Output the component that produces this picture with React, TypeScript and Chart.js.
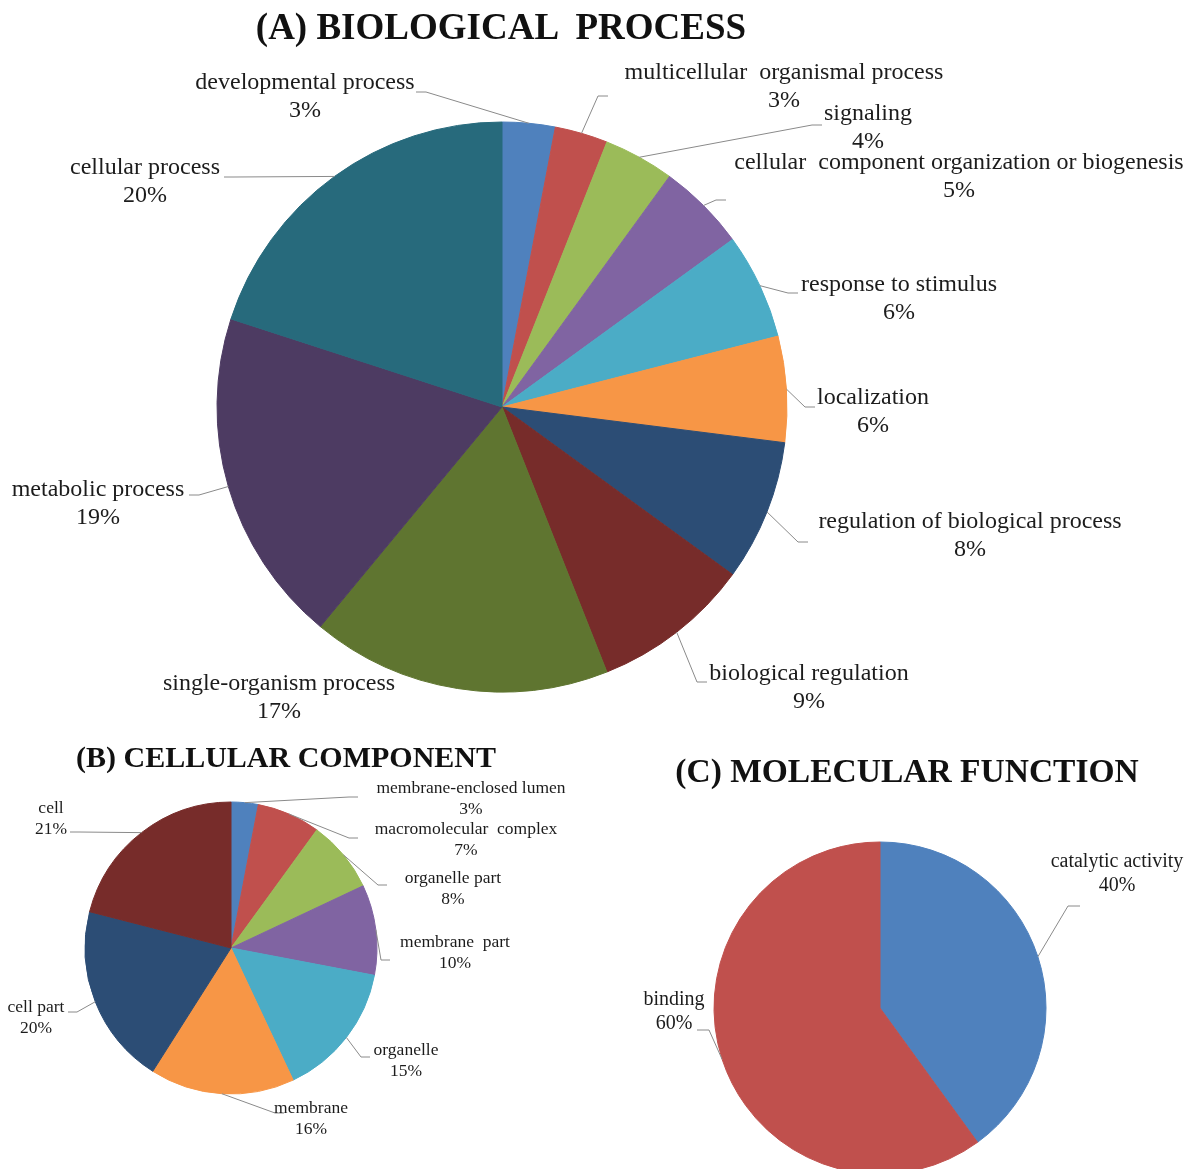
import React, { useEffect, useRef } from 'react';
import { Chart, registerables } from 'chart.js';

Chart.register(...registerables);

// ---------- DATA ----------
const bpCategories = [
  'developmental process',
  'multicellular  organismal process',
  'signaling',
  'cellular  component organization or biogenesis',
  'response to stimulus',
  'localization',
  'regulation of biological process',
  'biological regulation',
  'single-organism process',
  'metabolic process',
  'cellular process',
];
const bpValues = [3, 3, 4, 5, 6, 6, 8, 9, 17, 19, 20];

const ccCategories = [
  'membrane-enclosed lumen',
  'macromolecular  complex',
  'organelle part',
  'membrane  part',
  'organelle',
  'membrane',
  'cell part',
  'cell',
];
const ccValues = [3, 7, 8, 10, 15, 16, 20, 21];

const mfCategories = ['catalytic activity', 'binding'];
const mfValues = [40, 60];

// ---------- STYLE / LAYOUT ----------
const W = 1190;
const H = 1169;
const FONT = '"Liberation Serif", "Times New Roman", serif';
const TEXT_COLOR = '#1c1c1c';
const LEADER_COLOR = '#8a8a8a';

const bpColors = ['#4F81BD', '#C0504D', '#9BBB59', '#8064A2', '#4BACC6', '#F79646', '#2C4D75', '#772C2A', '#5F7530', '#4D3B62', '#276A7C'];
const ccColors = ['#4F81BD', '#C0504D', '#9BBB59', '#8064A2', '#4BACC6', '#F79646', '#2C4D75', '#772C2A'];
const mfColors = ['#4F81BD', '#C0504D'];

type LabelPos = { x: number; y: number; ax?: number; ay?: number; side?: 'L' | 'R' };

// text block centre (x, first-line y) and leader attach point
const bpLabelPos: LabelPos[] = [
  { x: 305, y: 83, ax: 416, ay: 92, side: 'R' },
  { x: 784, y: 73, ax: 608, ay: 96, side: 'L' },
  { x: 868, y: 114, ax: 822, ay: 125, side: 'L' },
  { x: 959, y: 163, ax: 726, ay: 200, side: 'L' },
  { x: 899, y: 285, ax: 798, ay: 293, side: 'L' },
  { x: 873, y: 398, ax: 815, ay: 407, side: 'L' },
  { x: 970, y: 522, ax: 808, ay: 542, side: 'L' },
  { x: 809, y: 674, ax: 707, ay: 682, side: 'L' },
  { x: 279, y: 684 },
  { x: 98, y: 490, ax: 189, ay: 495, side: 'R' },
  { x: 145, y: 168, ax: 224, ay: 177, side: 'R' },
];
const ccLabelPos: LabelPos[] = [
  { x: 471, y: 788, ax: 358, ay: 797, side: 'L' },
  { x: 466, y: 829, ax: 358, ay: 838, side: 'L' },
  { x: 453, y: 878, ax: 387, ay: 885, side: 'L' },
  { x: 455, y: 942, ax: 390, ay: 960, side: 'L' },
  { x: 406, y: 1050, ax: 370, ay: 1057, side: 'L' },
  { x: 311, y: 1108, ax: 284, ay: 1113, side: 'L' },
  { x: 36, y: 1007, ax: 68, ay: 1012, side: 'R' },
  { x: 51, y: 808, ax: 70, ay: 832, side: 'R' },
];
const mfLabelPos: LabelPos[] = [
  { x: 1117, y: 862, ax: 1080, ay: 906, side: 'L' },
  { x: 674, y: 1000, ax: 697, ay: 1030, side: 'R' },
];

const sliceLabelPlugin = {
  id: 'sliceLabels',
  afterDatasetsDraw(chart: any, _args: any, opts: any) {
    const ctx = chart.ctx;
    const meta = chart.getDatasetMeta(0);
    const labels: string[] = chart.data.labels;
    const values: number[] = chart.data.datasets[0].data;
    const pos: LabelPos[] = opts.positions;
    ctx.save();
    ctx.font = `${opts.fontSize}px ${FONT}`;
    ctx.textAlign = 'center';
    ctx.textBaseline = 'middle';
    meta.data.forEach((arc: any, i: number) => {
      const p = pos[i];
      if (!p) return;
      const { x, y, startAngle, endAngle, outerRadius } = arc.getProps(['x', 'y', 'startAngle', 'endAngle', 'outerRadius'], true);
      const mid = (startAngle + endAngle) / 2;
      const ex = x + Math.cos(mid) * outerRadius;
      const ey = y + Math.sin(mid) * outerRadius;
      if (p.side && p.ax !== undefined && p.ay !== undefined) {
        const stub = opts.stub;
        ctx.strokeStyle = LEADER_COLOR;
        ctx.lineWidth = 1;
        ctx.beginPath();
        ctx.moveTo(p.ax, p.ay);
        ctx.lineTo(p.ax + (p.side === 'R' ? stub : -stub), p.ay);
        ctx.lineTo(ex, ey);
        ctx.stroke();
      }
      ctx.fillStyle = TEXT_COLOR;
      ctx.fillText(labels[i], p.x, p.y);
      ctx.fillText(`${values[i]}%`, p.x, p.y + opts.lineHeight);
    });
    ctx.restore();
  },
};

type PieSpec = {
  categories: string[];
  values: number[];
  colors: string[];
  cx: number;
  cy: number;
  r: number;
  positions: LabelPos[];
  fontSize: number;
  lineHeight: number;
  stub: number;
};

const pies: PieSpec[] = [
  { categories: bpCategories, values: bpValues, colors: bpColors, cx: 502, cy: 407, r: 285, positions: bpLabelPos, fontSize: 24, lineHeight: 28, stub: 10 },
  { categories: ccCategories, values: ccValues, colors: ccColors, cx: 231, cy: 948, r: 146, positions: ccLabelPos, fontSize: 17.5, lineHeight: 21, stub: 9 },
  { categories: mfCategories, values: mfValues, colors: mfColors, cx: 880, cy: 1008, r: 166, positions: mfLabelPos, fontSize: 20, lineHeight: 24, stub: 12 },
];

const titles = [
  { text: '(A) BIOLOGICAL  PROCESS', x: 501, y: 26, size: 37 },
  { text: '(B) CELLULAR COMPONENT', x: 286, y: 757, size: 30 },
  { text: '(C) MOLECULAR FUNCTION', x: 907, y: 771, size: 33.5 },
];

function PieCanvas({ spec }: { spec: PieSpec }) {
  const ref = useRef<HTMLCanvasElement | null>(null);
  useEffect(() => {
    if (!ref.current) return;
    const half = 140;
    const chart = new Chart(ref.current, {
      type: 'pie',
      data: {
        labels: spec.categories,
        datasets: [
          {
            data: spec.values,
            backgroundColor: spec.colors,
            borderColor: spec.colors,
            borderWidth: 1,
            hoverOffset: 0,
          },
        ],
      },
      options: {
        responsive: false,
        animation: false,
        devicePixelRatio: 1,
        radius: spec.r,
        layout: {
          padding: {
            left: spec.cx - half,
            right: W - spec.cx - half,
            top: spec.cy - half,
            bottom: H - spec.cy - half,
          },
        },
        events: [],
        plugins: {
          legend: { display: false },
          tooltip: { enabled: false },
          title: { display: false },
          sliceLabels: {
            positions: spec.positions,
            fontSize: spec.fontSize,
            lineHeight: spec.lineHeight,
            stub: spec.stub,
          },
        } as any,
      } as any,
      plugins: [sliceLabelPlugin],
    });
    return () => chart.destroy();
  }, [spec]);
  return (
    <canvas
      ref={ref}
      width={W}
      height={H}
      style={{ position: 'absolute', left: 0, top: 0, width: W, height: H }}
    />
  );
}

export default function App() {
  useEffect(() => {
    document.body.style.margin = '0';
  }, []);
  return (
    <div style={{ position: 'relative', width: W, height: H, background: '#fff', overflow: 'hidden' }}>
      {pies.map((p, i) => (
        <PieCanvas key={i} spec={p} />
      ))}
      {titles.map((t, i) => (
        <div
          key={i}
          style={{
            position: 'absolute',
            left: t.x,
            top: t.y,
            transform: 'translate(-50%, -50%)',
            fontFamily: FONT,
            fontWeight: 'bold',
            fontSize: t.size,
            color: '#111',
            whiteSpace: 'pre',
            lineHeight: 1,
          }}
        >
          {t.text}
        </div>
      ))}
    </div>
  );
}
